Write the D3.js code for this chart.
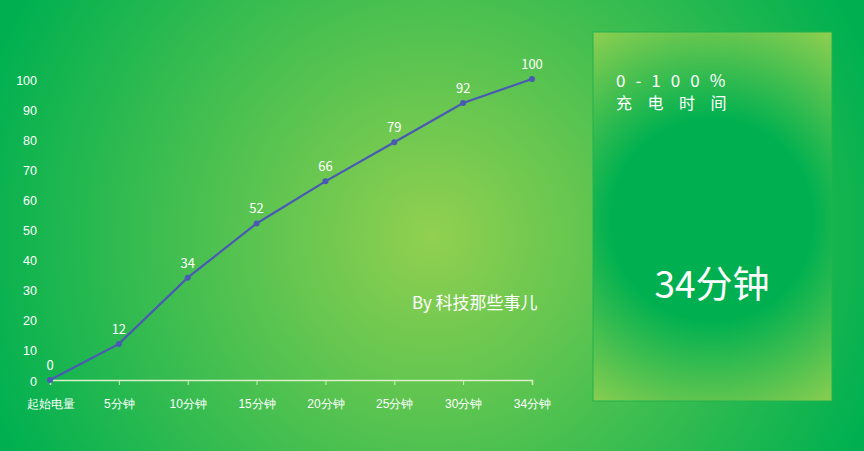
<!DOCTYPE html>
<html>
<head>
<meta charset="utf-8">
<script src="https://cdn.jsdelivr.net/npm/d3@7"></script>
<style>
  body { margin: 0; padding: 0; overflow: hidden; }
  svg { display: block; font-family: "Noto Sans CJK SC", "Noto Sans", sans-serif; }
</style>
</head>
<body>
<div id="chart"></div>
<script>
// chart data
const categories = ["起始电量", "5分钟", "10分钟", "15分钟", "20分钟", "25分钟", "30分钟", "34分钟"];
const charge = [0, 12, 34, 52, 66, 79, 92, 100];
const yTicks = [0, 10, 20, 30, 40, 50, 60, 70, 80, 90, 100];

const width = 864;
const height = 451;
const margin = {left: 50, right: 332, top: 79, bottom: 71};

const svg = d3.select("#chart")
  .append("svg")
  .attr("width", width)
  .attr("height", height);

const defs = svg.append("defs");

// background gradient, light in the middle
const bg = defs.append("radialGradient")
  .attr("id", "bg")
  .attr("gradientUnits", "userSpaceOnUse")
  .attr("cx", 432).attr("cy", 236).attr("r", 470);
bg.append("stop").attr("offset", "0%").attr("stop-color", "#92d050");
bg.append("stop").attr("offset", "100%").attr("stop-color", "#00b050");

// panel gradient, dark in the middle
const pg = defs.append("radialGradient")
  .attr("id", "panel")
  .attr("gradientUnits", "userSpaceOnUse")
  .attr("cx", 712).attr("cy", 220).attr("r", 225);
pg.append("stop").attr("offset", "45%").attr("stop-color", "#00b050");
pg.append("stop").attr("offset", "100%").attr("stop-color", "#92d050");

svg.append("rect")
  .attr("width", width)
  .attr("height", height)
  .attr("fill", "url(#bg)");

// scales
const x = d3.scalePoint()
  .domain(categories)
  .range([margin.left, width - margin.right]);

const y = d3.scaleLinear()
  .domain([0, 100])
  .range([height - margin.bottom, margin.top]);

// x axis
const xAxis = svg.append("g")
  .attr("transform", `translate(0,${y(0)})`)
  .call(d3.axisBottom(x).tickSize(5).tickPadding(14));
xAxis.select(".domain").attr("stroke", "#d9f0c8").attr("stroke-width", 1.5);
xAxis.selectAll(".tick line").attr("stroke", "#d9f0c8");
xAxis.selectAll("text")
  .attr("fill", "#ffffff")
  .attr("font-size", "12px")
  .attr("font-weight", 500);

// y axis, labels only
const yAxis = svg.append("g")
  .attr("transform", `translate(${margin.left - 13},1)`)
  .call(d3.axisLeft(y).tickValues(yTicks).tickSize(0).tickPadding(0));
yAxis.select(".domain").remove();
yAxis.selectAll("text")
  .attr("fill", "#ffffff")
  .attr("font-size", "12.5px");

// line
const line = d3.line()
  .x((d, i) => x(categories[i]))
  .y(d => y(d));

svg.append("path")
  .datum(charge)
  .attr("fill", "none")
  .attr("stroke", "#4a5ab4")
  .attr("stroke-width", 2.2)
  .attr("d", line);

svg.selectAll(".dot")
  .data(charge)
  .enter()
  .append("circle")
    .attr("class", "dot")
    .attr("cx", (d, i) => x(categories[i]))
    .attr("cy", d => y(d))
    .attr("r", 3)
    .attr("fill", "#4a5ab4");

svg.selectAll(".val")
  .data(charge)
  .enter()
  .append("text")
    .attr("class", "val")
    .attr("x", (d, i) => x(categories[i]))
    .attr("y", d => y(d) - 10)
    .attr("text-anchor", "middle")
    .attr("fill", "#ffffff")
    .attr("font-size", "13px")
    .text(d => d);

// credit
svg.append("text")
  .attr("x", 412)
  .attr("y", 309)
  .attr("fill", "#ffffff")
  .attr("font-size", "17px")
  .text("By 科技那些事儿");

// right panel
svg.append("rect")
  .attr("x", 593)
  .attr("y", 32)
  .attr("width", 239)
  .attr("height", 369)
  .attr("fill", "url(#panel)")
  .attr("stroke", "#22b24c")
  .attr("stroke-width", 1);

svg.append("text")
  .attr("x", 616)
  .attr("y", 87)
  .attr("fill", "#ffffff")
  .attr("font-size", "17px")
  .attr("letter-spacing", "10px")
  .text("0-100%");

svg.append("text")
  .attr("x", 616)
  .attr("y", 109)
  .attr("fill", "#ffffff")
  .attr("font-size", "16px")
  .attr("letter-spacing", "15.5px")
  .text("充电时间");

svg.append("text")
  .attr("x", 712)
  .attr("y", 298)
  .attr("text-anchor", "middle")
  .attr("fill", "#ffffff")
  .attr("font-size", "37px")
  .text("34分钟");
</script>
</body>
</html>
